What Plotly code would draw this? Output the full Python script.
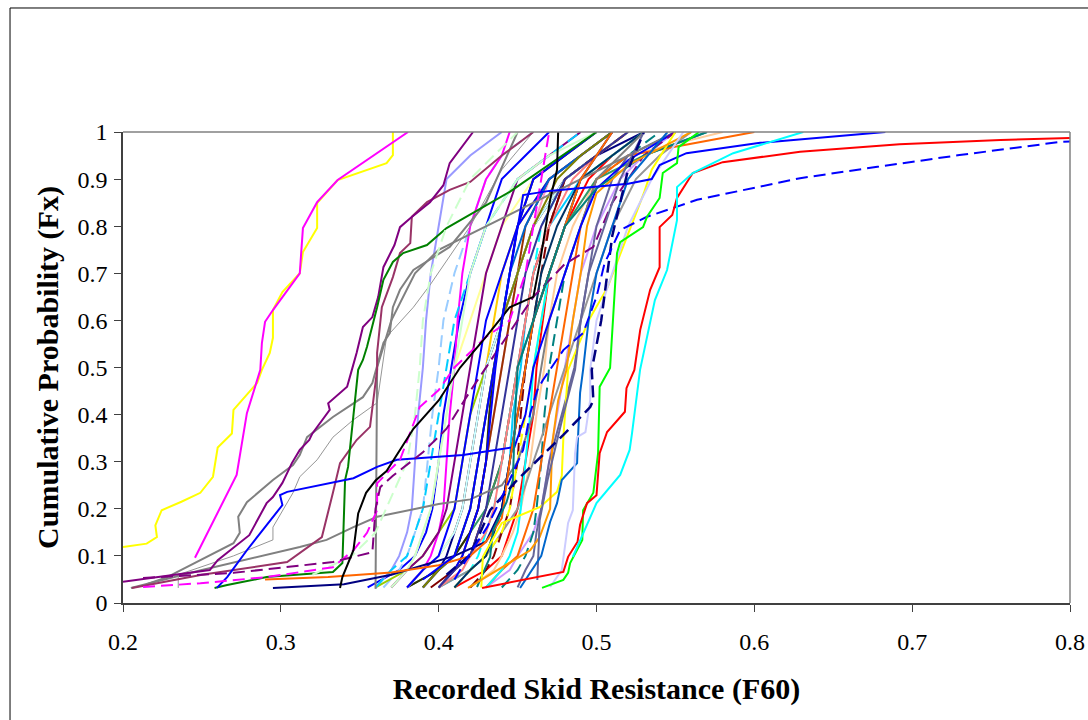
import plotly.graph_objects as go

# ---------------- data ----------------
PROB_GRID = [0.033, 0.07, 0.1, 0.15, 0.2, 0.3, 0.4, 0.5, 0.6, 0.7, 0.8, 0.9, 0.95, 1.0]

yellow_left_x = [0.2, 0.215, 0.2215, 0.2205, 0.2245, 0.237, 0.249, 0.257, 0.26, 0.269, 0.27, 0.285, 0.288,
                 0.293, 0.295, 0.295, 0.301, 0.308, 0.312, 0.314, 0.323, 0.323, 0.336, 0.367, 0.371, 0.371]
yellow_left_y = [0.119, 0.126, 0.14, 0.165, 0.197, 0.215, 0.234, 0.268, 0.33, 0.36, 0.41, 0.467, 0.495,
                 0.531, 0.563, 0.622, 0.66, 0.686, 0.70, 0.745, 0.796, 0.849, 0.898, 0.934, 0.951, 1.0]

magenta_left_x = [0.2456, 0.272, 0.2785, 0.287, 0.288, 0.29, 0.295, 0.312, 0.314, 0.323, 0.336, 0.3545, 0.3806]
magenta_left_y = [0.096, 0.272, 0.403, 0.495, 0.552, 0.597, 0.622, 0.70, 0.796, 0.851, 0.898, 0.94, 1.0]

red_right_x = [0.4275, 0.4757, 0.479, 0.482, 0.488, 0.4896, 0.494, 0.50, 0.502, 0.5067, 0.518, 0.519, 0.524,
               0.5277, 0.534, 0.540, 0.540, 0.548, 0.551, 0.561, 0.580, 0.629, 0.692, 0.756, 0.80]
red_right_y = [0.032, 0.064, 0.066, 0.098, 0.13, 0.166, 0.212, 0.229, 0.318, 0.363, 0.406, 0.456, 0.495,
               0.58, 0.665, 0.713, 0.798, 0.824, 0.86, 0.913, 0.936, 0.958, 0.974, 0.983, 0.987]

cyan_right_x = [0.485, 0.4915, 0.50, 0.515, 0.521, 0.5225, 0.5276, 0.537, 0.5447, 0.551, 0.551, 0.561, 0.5866, 0.631]
cyan_right_y = [0.098, 0.148, 0.212, 0.272, 0.325, 0.36, 0.495, 0.643, 0.707, 0.813, 0.883, 0.913, 0.955, 1.0]

lime_right_x = [0.4655, 0.479, 0.482, 0.4833, 0.491, 0.4915, 0.498, 0.501, 0.502, 0.5086, 0.513, 0.515,
                0.5295, 0.532, 0.540, 0.542, 0.551, 0.552, 0.565]
lime_right_y = [0.032, 0.049, 0.064, 0.085, 0.134, 0.197, 0.234, 0.318, 0.459, 0.499, 0.743, 0.766,
                0.798, 0.82, 0.86, 0.913, 0.934, 0.968, 1.0]

blue_dashed_long_x = [0.41, 0.42, 0.4307, 0.443, 0.4535, 0.458, 0.4625, 0.466, 0.479, 0.4915, 0.50, 0.505,
                      0.515, 0.532, 0.5637, 0.629, 0.678, 0.730, 0.794, 0.80]
blue_dashed_long_y = [0.05, 0.106, 0.161, 0.246, 0.325, 0.403, 0.452, 0.473, 0.537, 0.573, 0.65, 0.72,
                      0.792, 0.82, 0.856, 0.902, 0.926, 0.951, 0.979, 0.98]

navy_dashed_x = [0.405, 0.42, 0.4326, 0.4497, 0.479, 0.496, 0.498, 0.497, 0.503, 0.507, 0.51, 0.515, 0.52, 0.53]
navy_dashed_y = [0.06, 0.102, 0.197, 0.261, 0.357, 0.416, 0.43, 0.495, 0.6, 0.7, 0.78, 0.85, 0.92, 1.0]

orange_mid_x = [0.4186, 0.437, 0.458, 0.464, 0.4706, 0.472, 0.4757, 0.481, 0.485, 0.49, 0.494, 0.50, 0.52, 0.56]
orange_mid_y = [0.032, 0.07, 0.112, 0.14, 0.2, 0.34, 0.43, 0.495, 0.6, 0.7, 0.8, 0.87, 0.93, 1.0]

yellow_mid_x = [0.427, 0.428, 0.44, 0.4643, 0.475, 0.478, 0.479, 0.48, 0.482, 0.495, 0.507, 0.515, 0.523, 0.53, 0.535, 0.55]
yellow_mid_y = [0.033, 0.098, 0.17, 0.204, 0.236, 0.27, 0.35, 0.40, 0.495, 0.6, 0.67, 0.74, 0.81, 0.87, 0.92, 1.0]

lavender_right_x = [0.4706, 0.478, 0.482, 0.485, 0.4864, 0.4877, 0.493, 0.496, 0.496, 0.50, 0.51, 0.52, 0.535, 0.545, 0.555]
lavender_right_y = [0.034, 0.07, 0.17, 0.197, 0.318, 0.352, 0.363, 0.431, 0.495, 0.6, 0.7, 0.8, 0.9, 0.95, 1.0]

ocean_right_x = [0.4516, 0.465, 0.4706, 0.475, 0.478, 0.4877, 0.488, 0.4896, 0.4915, 0.495, 0.50, 0.51, 0.52, 0.545]
ocean_right_y = [0.032, 0.1, 0.172, 0.212, 0.261, 0.297, 0.331, 0.446, 0.495, 0.6, 0.7, 0.8, 0.9, 1.0]

slate_right_x = [0.4625, 0.464, 0.469, 0.479, 0.4864, 0.49, 0.495, 0.505, 0.515, 0.53]
slate_right_y = [0.049, 0.176, 0.261, 0.4, 0.495, 0.6, 0.7, 0.8, 0.9, 1.0]

teal_mid_x = [0.4243, 0.4326, 0.4345, 0.443, 0.447, 0.4484, 0.45, 0.46, 0.47, 0.48, 0.50, 0.53, 0.57]
teal_mid_y = [0.034, 0.098, 0.155, 0.214, 0.261, 0.395, 0.5, 0.6, 0.7, 0.8, 0.88, 0.95, 1.0]

black_x = [0.3375, 0.339, 0.346, 0.349, 0.354, 0.36, 0.367, 0.384, 0.40, 0.4136, 0.43, 0.445, 0.46, 0.464, 0.4706, 0.475, 0.4757]
black_y = [0.032, 0.055, 0.112, 0.19, 0.234, 0.26, 0.28, 0.37, 0.43, 0.5, 0.565, 0.628, 0.65, 0.72, 0.856, 0.92, 1.0]

magenta_dashed_x = [0.2127, 0.249, 0.291, 0.333, 0.346, 0.3546, 0.361, 0.361, 0.369, 0.3755, 0.388, 0.40,
                    0.41, 0.43, 0.445, 0.455, 0.46, 0.465, 0.47]
magenta_dashed_y = [0.034, 0.042, 0.055, 0.076, 0.112, 0.149, 0.197, 0.254, 0.282, 0.304, 0.416, 0.452,
                    0.5, 0.565, 0.6, 0.7, 0.8, 0.9, 1.0]

purple_dashed_x = [0.2127, 0.27, 0.333, 0.358, 0.36, 0.363, 0.371, 0.39, 0.405, 0.42, 0.44, 0.46, 0.48,
                   0.498, 0.51, 0.53, 0.55]
purple_dashed_y = [0.053, 0.064, 0.087, 0.108, 0.2, 0.246, 0.27, 0.32, 0.37, 0.45, 0.55, 0.65, 0.72,
                   0.756, 0.85, 0.95, 1.0]

purple_left_x = [0.2, 0.255, 0.26, 0.28, 0.291, 0.295, 0.301, 0.307, 0.312, 0.318, 0.32, 0.331, 0.33, 0.342,
                 0.345, 0.348, 0.352, 0.358, 0.3617, 0.365, 0.372, 0.3755, 0.382, 0.3945, 0.403, 0.405, 0.407, 0.4218]
purple_left_y = [0.045, 0.07, 0.091, 0.144, 0.212, 0.225, 0.255, 0.297, 0.325, 0.346, 0.36, 0.41, 0.424, 0.459,
                 0.495, 0.531, 0.586, 0.607, 0.65, 0.713, 0.76, 0.798, 0.817, 0.851, 0.887, 0.913, 0.934, 1.0]

plum_left_x = [0.2057, 0.25, 0.304, 0.326, 0.333, 0.3375, 0.348, 0.3565, 0.361, 0.361, 0.364, 0.371, 0.3755,
               0.382, 0.383, 0.3926, 0.407, 0.42, 0.44, 0.46]
plum_left_y = [0.032, 0.06, 0.087, 0.14, 0.234, 0.297, 0.346, 0.374, 0.495, 0.531, 0.628, 0.692, 0.743,
               0.764, 0.82, 0.851, 0.877, 0.894, 0.95, 1.0]

green_left_x = [0.258, 0.266, 0.291, 0.333, 0.339, 0.3407, 0.3426, 0.347, 0.349, 0.352, 0.3546, 0.361, 0.365,
                0.371, 0.3775, 0.3926, 0.405, 0.445, 0.47, 0.50]
green_left_y = [0.032, 0.038, 0.055, 0.066, 0.085, 0.261, 0.289, 0.425, 0.495, 0.516, 0.544, 0.628, 0.686,
                0.724, 0.743, 0.76, 0.796, 0.873, 0.93, 1.0]

gray_left_x = [0.215, 0.228, 0.27, 0.274, 0.273, 0.2785, 0.295, 0.3077, 0.312, 0.3166, 0.333, 0.352, 0.358,
               0.365, 0.369, 0.371, 0.3755, 0.384, 0.407, 0.43, 0.45]
gray_left_y = [0.04, 0.055, 0.127, 0.149, 0.183, 0.214, 0.261, 0.293, 0.314, 0.352, 0.395, 0.437, 0.467,
               0.552, 0.573, 0.628, 0.665, 0.707, 0.756, 0.85, 1.0]

gray_vert_x = [0.36, 0.361, 0.37, 0.385, 0.40, 0.43, 0.46, 0.49, 0.52, 0.55]
gray_vert_y = [0.03, 0.5, 0.6, 0.7, 0.75, 0.8, 0.85, 0.9, 0.95, 1.0]

gray_thin_x = [0.235, 0.235, 0.27, 0.295, 0.295, 0.3077, 0.312, 0.323, 0.333, 0.346, 0.361, 0.367, 0.384,
               0.3945, 0.42, 0.44, 0.46]
gray_thin_y = [0.032, 0.06, 0.1, 0.134, 0.161, 0.234, 0.268, 0.304, 0.352, 0.389, 0.425, 0.565, 0.628,
               0.675, 0.8, 0.92, 1.0]

gray_long_x = [0.205, 0.25, 0.312, 0.329, 0.346, 0.361, 0.40, 0.42, 0.44, 0.45, 0.46, 0.465, 0.47, 0.48, 0.49, 0.50, 0.53]
gray_long_y = [0.032, 0.07, 0.119, 0.134, 0.161, 0.183, 0.21, 0.22, 0.25, 0.3, 0.4, 0.5, 0.6, 0.7, 0.8, 0.9, 1.0]

blue_left_x = [0.2595, 0.266, 0.2785, 0.287, 0.295, 0.301, 0.2995, 0.304, 0.346, 0.361, 0.3735, 0.4155, 0.448,
               0.455, 0.46, 0.47, 0.48, 0.49, 0.50, 0.52, 0.55]
blue_left_y = [0.032, 0.055, 0.112, 0.149, 0.183, 0.208, 0.229, 0.236, 0.265, 0.289, 0.304, 0.314, 0.331,
               0.4, 0.5, 0.6, 0.7, 0.8, 0.88, 0.94, 1.0]

blue_far_x = [0.39, 0.41, 0.42, 0.425, 0.43, 0.435, 0.44, 0.445, 0.45, 0.4535, 0.47, 0.52, 0.535, 0.54, 0.557, 0.6037, 0.683]
blue_far_y = [0.05, 0.1, 0.2, 0.3, 0.4, 0.5, 0.6, 0.7, 0.8, 0.866, 0.875, 0.89, 0.9, 0.93, 0.955, 0.977, 1.0]

navy_left_x = [0.295, 0.34, 0.37, 0.39, 0.41, 0.43, 0.44, 0.445, 0.45, 0.455, 0.46, 0.47, 0.48, 0.49, 0.51]
navy_left_y = [0.032, 0.04, 0.06, 0.08, 0.1, 0.13, 0.2, 0.3, 0.4, 0.5, 0.6, 0.7, 0.8, 0.9, 1.0]

orange_left_x = [0.29, 0.33, 0.37, 0.40, 0.42, 0.43, 0.44, 0.445, 0.45, 0.455, 0.46, 0.47, 0.48, 0.49, 0.51]
orange_left_y = [0.05, 0.055, 0.065, 0.08, 0.1, 0.13, 0.18, 0.3, 0.4, 0.5, 0.6, 0.7, 0.8, 0.9, 1.0]

lightgreen_dashed_x = [0.32, 0.345, 0.36, 0.38, 0.385, 0.388, 0.39, 0.395, 0.405, 0.42, 0.45]
lightgreen_dashed_y = [0.06, 0.1, 0.15, 0.3, 0.4, 0.5, 0.6, 0.7, 0.8, 0.9, 1.0]

# bulk series: skid-resistance values at the PROB_GRID probabilities
b01 = [0.355, 0.375, 0.385, 0.392, 0.396, 0.40, 0.403, 0.408, 0.413, 0.42, 0.43, 0.44, 0.455, 0.47]
b02 = [0.40, 0.42, 0.43, 0.435, 0.44, 0.445, 0.447, 0.452, 0.455, 0.46, 0.47, 0.49, 0.51, 0.53]
b03 = [0.395, 0.41, 0.42, 0.425, 0.43, 0.44, 0.445, 0.45, 0.455, 0.46, 0.47, 0.48, 0.50, 0.52]
b04 = [0.41, 0.43, 0.44, 0.445, 0.45, 0.455, 0.46, 0.462, 0.466, 0.47, 0.48, 0.495, 0.51, 0.53]
b05 = [0.36, 0.37, 0.375, 0.38, 0.383, 0.385, 0.387, 0.39, 0.392, 0.395, 0.40, 0.405, 0.42, 0.44]
b06 = [0.365, 0.375, 0.38, 0.385, 0.39, 0.393, 0.396, 0.40, 0.403, 0.41, 0.42, 0.43, 0.44, 0.46]
b07 = [0.37, 0.38, 0.385, 0.39, 0.395, 0.40, 0.405, 0.41, 0.42, 0.43, 0.44, 0.46, 0.48, 0.50]
b08 = [0.43, 0.445, 0.45, 0.46, 0.465, 0.47, 0.475, 0.48, 0.485, 0.49, 0.50, 0.515, 0.53, 0.55]
b09 = [0.39, 0.40, 0.41, 0.42, 0.425, 0.43, 0.435, 0.44, 0.445, 0.45, 0.46, 0.47, 0.49, 0.51]
b10 = [0.42, 0.435, 0.44, 0.447, 0.452, 0.458, 0.462, 0.467, 0.47, 0.475, 0.485, 0.50, 0.52, 0.58]
b11 = [0.38, 0.40, 0.41, 0.42, 0.43, 0.44, 0.445, 0.45, 0.46, 0.47, 0.48, 0.50, 0.53, 0.57]
b12 = [0.40, 0.41, 0.415, 0.42, 0.425, 0.43, 0.435, 0.44, 0.445, 0.45, 0.455, 0.47, 0.49, 0.51]
b13 = [0.38, 0.40, 0.41, 0.42, 0.425, 0.43, 0.432, 0.435, 0.44, 0.445, 0.45, 0.46, 0.48, 0.50]
b14 = [0.36, 0.38, 0.39, 0.40, 0.41, 0.415, 0.42, 0.43, 0.44, 0.45, 0.46, 0.48, 0.50, 0.52]
b15 = [0.38, 0.39, 0.40, 0.41, 0.415, 0.42, 0.425, 0.43, 0.435, 0.44, 0.45, 0.47, 0.49, 0.51]
b16 = [0.41, 0.42, 0.425, 0.43, 0.435, 0.44, 0.445, 0.45, 0.455, 0.46, 0.465, 0.48, 0.50, 0.52]
b17 = [0.44, 0.45, 0.455, 0.46, 0.462, 0.465, 0.467, 0.47, 0.475, 0.48, 0.49, 0.50, 0.52, 0.54]
b18 = [0.39, 0.40, 0.405, 0.41, 0.415, 0.42, 0.425, 0.43, 0.44, 0.45, 0.46, 0.48, 0.50, 0.53]
b19 = [0.40, 0.41, 0.415, 0.42, 0.425, 0.43, 0.433, 0.436, 0.44, 0.445, 0.45, 0.47, 0.49, 0.51]
b20 = [0.38, 0.39, 0.395, 0.40, 0.403, 0.405, 0.407, 0.41, 0.412, 0.415, 0.42, 0.43, 0.44, 0.445]
b21 = [0.37, 0.38, 0.39, 0.40, 0.405, 0.41, 0.415, 0.42, 0.425, 0.43, 0.44, 0.45, 0.47, 0.49]
b22 = [0.40, 0.42, 0.43, 0.44, 0.45, 0.46, 0.47, 0.48, 0.49, 0.50, 0.51, 0.525, 0.54, 0.56]
b23 = [0.38, 0.39, 0.40, 0.41, 0.415, 0.42, 0.425, 0.43, 0.44, 0.45, 0.46, 0.48, 0.50, 0.52]
b24 = [0.40, 0.415, 0.42, 0.43, 0.435, 0.44, 0.445, 0.45, 0.455, 0.46, 0.47, 0.485, 0.50, 0.52]
b25 = [0.39, 0.40, 0.41, 0.415, 0.42, 0.425, 0.43, 0.435, 0.44, 0.445, 0.455, 0.47, 0.49, 0.51]
b26 = [0.42, 0.43, 0.435, 0.44, 0.445, 0.45, 0.452, 0.455, 0.46, 0.465, 0.47, 0.48, 0.50, 0.52]
b27 = [0.41, 0.42, 0.43, 0.44, 0.445, 0.45, 0.455, 0.46, 0.465, 0.47, 0.48, 0.49, 0.51, 0.53]
b28 = [0.36, 0.37, 0.38, 0.385, 0.39, 0.395, 0.40, 0.405, 0.41, 0.42, 0.43, 0.45, 0.47, 0.49]
b29 = [0.40, 0.41, 0.42, 0.425, 0.43, 0.435, 0.44, 0.445, 0.45, 0.455, 0.465, 0.48, 0.50, 0.52]
b30 = [0.38, 0.39, 0.40, 0.405, 0.41, 0.415, 0.42, 0.425, 0.43, 0.44, 0.45, 0.46, 0.48, 0.50]
b31 = [0.43, 0.44, 0.45, 0.455, 0.46, 0.465, 0.47, 0.475, 0.48, 0.485, 0.49, 0.50, 0.52, 0.60]
b32 = [0.37, 0.38, 0.385, 0.39, 0.395, 0.40, 0.405, 0.41, 0.415, 0.42, 0.43, 0.45, 0.47, 0.50]
b33 = [0.45, 0.455, 0.46, 0.462, 0.465, 0.47, 0.478, 0.486, 0.49, 0.495, 0.50, 0.51, 0.52, 0.55]
b34 = [0.43, 0.44, 0.445, 0.45, 0.452, 0.455, 0.458, 0.46, 0.465, 0.47, 0.48, 0.49, 0.51, 0.53]
b35 = [0.41, 0.42, 0.43, 0.435, 0.44, 0.445, 0.45, 0.455, 0.46, 0.465, 0.475, 0.49, 0.51, 0.53]
b36 = [0.39, 0.40, 0.41, 0.415, 0.42, 0.425, 0.43, 0.435, 0.44, 0.45, 0.46, 0.475, 0.49, 0.51]

x_ticks = [0.2, 0.3, 0.4, 0.5, 0.6, 0.7, 0.8]
y_ticks = [0, 0.1, 0.2, 0.3, 0.4, 0.5, 0.6, 0.7, 0.8, 0.9, 1]
x_title = "Recorded Skid Resistance (F60)"
y_title = "Cumulative Probability (Fx)"

# ---------------- styles ----------------
DASH = "12px,6px"
bulk = [
    (b01, "#0000FF", None), (b02, "#00CCFF", None), (b03, "#800000", None), (b04, "#FF0000", None),
    (b05, "#9999FF", None), (b06, "#99CCFF", DASH), (b07, "#FFFF99", None), (b08, "#CC99FF", None),
    (b09, "#FF99CC", None), (b10, "#FFCC99", None), (b11, "#339966", None), (b12, "#993300", None),
    (b13, "#333300", None), (b14, "#99CC00", None), (b15, "#FFCC00", None), (b16, "#00FFFF", DASH),
    (b17, "#008080", DASH), (b18, "#000080", None), (b19, "#0000FF", None), (b20, "#FF00FF", None),
    (b21, "#800080", None), (b22, "#969696", None), (b23, "#CCFFFF", None), (b24, "#FF8080", None),
    (b25, "#0066CC", None), (b26, "#800000", DASH), (b27, "#FFFF00", DASH), (b28, "#00CCFF", DASH),
    (b29, "#333399", None), (b30, "#0000FF", None), (b31, "#FF6600", None), (b32, "#CCFFCC", None),
    (b33, "#666699", None), (b34, "#00FFFF", None), (b35, "#003366", None), (b36, "#808000", None),
]

special = [
    (gray_long_x, gray_long_y, "#808080", None, 2),
    (gray_thin_x, gray_thin_y, "#969696", None, 1),
    (gray_vert_x, gray_vert_y, "#808080", None, 2),
    (gray_left_x, gray_left_y, "#808080", None, 2),
    (plum_left_x, plum_left_y, "#993366", None, 2),
    (purple_left_x, purple_left_y, "#800080", None, 2),
    (green_left_x, green_left_y, "#008000", None, 2),
    (blue_left_x, blue_left_y, "#0000FF", None, 2),
    (navy_left_x, navy_left_y, "#000080", None, 2),
    (orange_left_x, orange_left_y, "#FF6600", None, 2),
    (lightgreen_dashed_x, lightgreen_dashed_y, "#CCFFCC", DASH, 2),
    (magenta_dashed_x, magenta_dashed_y, "#FF00FF", DASH, 2),
    (purple_dashed_x, purple_dashed_y, "#800080", DASH, 2),
    (black_x, black_y, "#000000", None, 2),
    (teal_mid_x, teal_mid_y, "#008080", None, 2),
    (yellow_mid_x, yellow_mid_y, "#FFFF00", None, 2),
    (orange_mid_x, orange_mid_y, "#FF9900", None, 2),
    (slate_right_x, slate_right_y, "#666699", None, 2),
    (ocean_right_x, ocean_right_y, "#0066CC", None, 2),
    (lavender_right_x, lavender_right_y, "#CCCCFF", None, 2),
    (blue_far_x, blue_far_y, "#0000FF", None, 2),
    (navy_dashed_x, navy_dashed_y, "#000080", DASH, 2.5),
    (blue_dashed_long_x, blue_dashed_long_y, "#0000FF", DASH, 2),
    (lime_right_x, lime_right_y, "#00FF00", None, 2),
    (red_right_x, red_right_y, "#FF0000", None, 2),
    (cyan_right_x, cyan_right_y, "#00FFFF", None, 2),
    (yellow_left_x, yellow_left_y, "#FFFF00", None, 2),
    (magenta_left_x, magenta_left_y, "#FF00FF", None, 2),
]

fig = go.Figure()
for xs, col, dash in bulk:
    fig.add_trace(go.Scatter(x=xs, y=PROB_GRID, mode="lines",
                             line=dict(color=col, width=2, dash=dash or "solid"),
                             showlegend=False, hoverinfo="skip"))
for xs, ys, col, dash, w in special:
    fig.add_trace(go.Scatter(x=xs, y=ys, mode="lines",
                             line=dict(color=col, width=w, dash=dash or "solid"),
                             showlegend=False, hoverinfo="skip"))

FONT = "Liberation Serif, Times New Roman, serif"
fig.update_layout(
    width=1088, height=720, autosize=False,
    margin=dict(l=123, r=18, t=132, b=117, autoexpand=False),
    paper_bgcolor="white", plot_bgcolor="white",
    font=dict(family=FONT, color="black"),
    showlegend=False,
    xaxis=dict(range=[0.2, 0.8], tickvals=x_ticks, ticktext=[f"{v:g}" for v in x_ticks],
               ticks="outside", ticklen=7, tickcolor="#404040", tickwidth=1,
               showline=True, linecolor="#404040", linewidth=1.5, automargin=False,
               ticklabelstandoff=9,
               showgrid=False, zeroline=False, tickfont=dict(size=24, family=FONT),
               title=dict(text=f"<b>{x_title}</b>", font=dict(size=30, family=FONT), standoff=24)),
    yaxis=dict(range=[0, 1], tickvals=y_ticks, ticktext=[f"{v:g}" for v in y_ticks],
               ticks="outside", ticklen=7, tickcolor="#404040", tickwidth=1,
               showline=True, linecolor="#404040", linewidth=1.5, automargin=False,
               ticklabelstandoff=2,
               showgrid=False, zeroline=False, tickfont=dict(size=24, family=FONT),
               title=dict(text=f"<b>{y_title}</b>", font=dict(size=30, family=FONT), standoff=10)),
    shapes=[
        dict(type="line", xref="paper", yref="paper", x0=0, x1=1, y0=1, y1=1,
             line=dict(color="#808080", width=1.5), layer="above"),
        dict(type="line", xref="paper", yref="paper", x0=1, x1=1, y0=0, y1=1,
             line=dict(color="#808080", width=1.5), layer="above"),
        dict(type="rect", xref="paper", yref="paper", x0=-0.1193, x1=1.05, y0=-0.3, y1=1.2633,
             line=dict(color="black", width=1), layer="below"),
    ],
)

fig.write_html("out.html")
